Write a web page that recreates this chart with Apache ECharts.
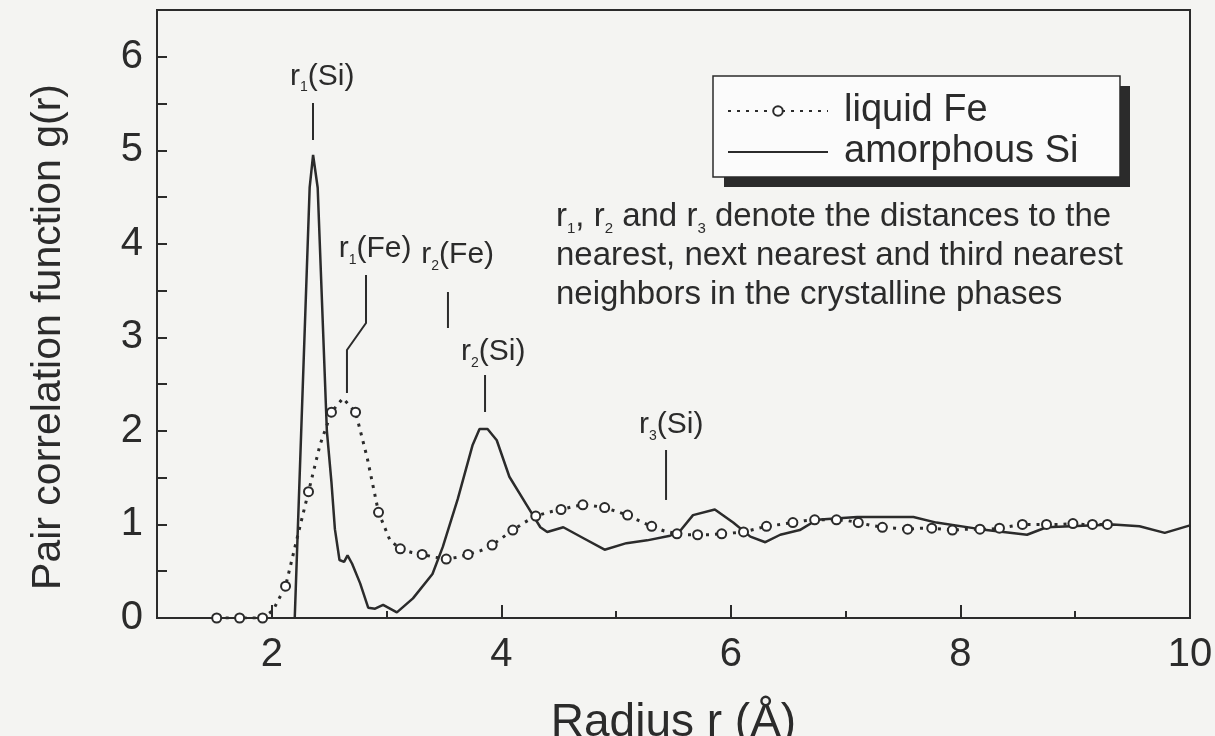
<!DOCTYPE html>
<html><head><meta charset="utf-8">
<script src="https://cdn.jsdelivr.net/npm/echarts@6/dist/echarts.min.js"></script>
<style>html,body{margin:0;padding:0;background:#f4f4f2;}#c{width:1215px;height:736px;}</style>
</head><body><div id="c"></div>
<script>
// ---- data ----
const seriesNames = ['liquid Fe', 'amorphous Si'];
const feR = [1.52,1.62,1.72,1.82,1.92,2.01,2.12,2.22,2.32,2.42,2.52,2.62,2.73,2.83,2.93,3.03,3.12,3.22,3.31,3.42,3.52,3.62,3.71,3.82,3.92,4.01,4.10,4.20,4.30,4.41,4.52,4.62,4.71,4.80,4.90,5.00,5.10,5.20,5.31,5.42,5.53,5.62,5.71,5.82,5.92,6.02,6.11,6.21,6.31,6.43,6.54,6.64,6.73,6.83,6.92,7.02,7.11,7.22,7.32,7.43,7.54,7.65,7.75,7.84,7.93,8.05,8.17,8.26,8.34,8.44,8.54,8.65,8.75,8.87,8.98,9.07,9.15,9.22,9.28];
const feG = [0,0,0,0,0,0.08,0.34,0.85,1.35,1.85,2.2,2.35,2.2,1.72,1.13,0.83,0.74,0.70,0.68,0.65,0.63,0.65,0.68,0.72,0.78,0.86,0.94,1.02,1.09,1.13,1.16,1.19,1.21,1.20,1.18,1.14,1.10,1.04,0.98,0.93,0.90,0.89,0.89,0.89,0.90,0.91,0.92,0.95,0.98,1.00,1.02,1.04,1.05,1.05,1.05,1.04,1.02,0.99,0.97,0.96,0.95,0.96,0.96,0.95,0.94,0.95,0.95,0.95,0.96,0.98,1.00,1.00,1.00,1.00,1.01,1.00,1.00,1.00,1.00];
const siR = [2.20,2.33,2.36,2.40,2.48,2.52,2.55,2.59,2.63,2.66,2.70,2.77,2.84,2.90,2.97,3.09,3.23,3.40,3.49,3.62,3.75,3.81,3.88,3.96,4.07,4.22,4.34,4.40,4.54,4.72,4.90,5.09,5.27,5.47,5.55,5.67,5.86,6.02,6.17,6.30,6.43,6.60,6.75,7.10,7.59,7.79,8.17,8.58,8.75,9.33,9.56,9.78,10.0];
const siG = [0,4.6,4.95,4.6,2.0,1.45,0.95,0.62,0.6,0.67,0.58,0.37,0.11,0.1,0.14,0.06,0.21,0.47,0.76,1.27,1.85,2.02,2.02,1.9,1.51,1.21,0.97,0.92,0.97,0.85,0.73,0.80,0.83,0.88,0.92,1.10,1.16,1.02,0.87,0.81,0.89,0.94,1.05,1.08,1.08,1.02,0.95,0.89,0.97,1.0,0.98,0.91,0.99];
const xTickLabels = [2, 4, 6, 8, 10];
const yTickLabels = [0, 1, 2, 3, 4, 5, 6];
const xTitle = 'Radius r (Å)';
const yTitle = 'Pair correlation function g(r)';
// peak markers: label (rich text), label centre and pointer path in data units
const peakMarks = [
  {label: '{m|r}{s|1}{m|(Si)}', at: [2.44, 5.79], path: [[2.359, 5.506], [2.359, 5.11]]},
  {label: '{m|r}{s|1}{m|(Fe)}', at: [2.90, 3.945], path: [[2.821, 3.667], [2.821, 3.154], [2.655, 2.865], [2.655, 2.405]]},
  {label: '{m|r}{s|2}{m|(Fe)}', at: [3.62, 3.88], path: [[3.535, 3.485], [3.535, 3.10]]},
  {label: '{m|r}{s|2}{m|(Si)}', at: [3.93, 2.844], path: [[3.858, 2.598], [3.858, 2.202]]},
  {label: '{m|r}{s|3}{m|(Si)}', at: [5.48, 2.063], path: [[5.435, 1.796], [5.435, 1.262]]}
];
const noteText = '{m|r}{s|1}{m|, r}{s|2}{m| and r}{s|3}{m| denote the distances to the}\n{m|nearest, next nearest and third nearest}\n{m|neighbors in the crystalline phases}';

// ---- chart ----
const INK = '#2b2b2b';
const FONT = '"Liberation Sans", Arial, Helvetica, sans-serif';
const chart = echarts.init(document.getElementById('c'), null, {renderer: 'canvas'});

const feData = feR.map((r, i) => ({value: [r, feG[i]], symbol: i % 2 === 0 ? 'emptyCircle' : 'none'}));
const siData = siR.map((r, i) => [r, siG[i]]);

chart.setOption({
  animation: false,
  backgroundColor: '#f4f4f2',
  textStyle: {fontFamily: FONT, color: INK},
  grid: {left: 157, right: 25, top: 10, bottom: 118, outerBoundsMode: 'none', containLabel: false,
         show: true, borderColor: INK, borderWidth: 2, backgroundColor: 'transparent'},
  legend: {
    orient: 'vertical', left: 713, top: 77, selectedMode: false,
    data: [{name: seriesNames[0]}, {name: seriesNames[1], itemStyle: {opacity: 0}}],
    itemWidth: 100, itemHeight: 12, itemGap: 3, padding: [15, 37, 9, 14],
    backgroundColor: 'transparent', borderWidth: 0,
    textStyle: {fontSize: 38, color: INK, fontFamily: FONT, padding: [0, 0, 0, 11]},
    z: 10
  },
  xAxis: [{
    type: 'value', min: 1, max: 10, interval: 1,
    name: xTitle, nameLocation: 'middle', nameGap: 82,
    nameTextStyle: {fontSize: 46, color: INK, fontFamily: FONT},
    axisLine: {show: true, lineStyle: {color: INK, width: 2}},
    axisTick: {show: true, inside: true, length: 7, lineStyle: {color: INK, width: 2}},
    axisLabel: {show: true, customValues: xTickLabels, fontSize: 40, color: INK, fontFamily: FONT, margin: 17},
    splitLine: {show: false}
  }, {
    type: 'value', min: 1, max: 10, position: 'bottom',
    axisLine: {show: false},
    axisTick: {show: true, inside: true, length: 13, customValues: xTickLabels, lineStyle: {color: INK, width: 2}},
    axisLabel: {show: false}, splitLine: {show: false}
  }],
  yAxis: {
    type: 'value', min: 0, max: 6.5, interval: 0.5,
    name: yTitle, nameLocation: 'middle', nameGap: 88, nameRotate: 90,
    nameTextStyle: {fontSize: 41, color: INK, fontFamily: FONT, padding: [0, 46, 0, 0]},
    axisLine: {show: true, lineStyle: {color: INK, width: 2}},
    axisTick: {show: true, inside: true, length: 10, lineStyle: {color: INK, width: 2}},
    axisLabel: {show: true, customValues: yTickLabels, fontSize: 40, color: INK, fontFamily: FONT, margin: 14},
    splitLine: {show: false}
  },
  series: [{
    name: seriesNames[0], type: 'line', xAxisIndex: 0, data: feData,
    symbol: 'emptyCircle', symbolSize: 9, showAllSymbol: true,
    itemStyle: {color: INK, borderWidth: 1.5},
    lineStyle: {color: INK, width: 3, type: [3, 6]},
    z: 3
  }, {
    name: seriesNames[1], type: 'line', xAxisIndex: 0, data: siData,
    symbol: 'none', itemStyle: {color: INK}, lineStyle: {color: INK, width: 2.5}, z: 2
  }]
});

const richStyles = (size, subSize) => ({
  m: {fontSize: size, fontFamily: FONT, color: INK, lineHeight: size + 6},
  s: {fontSize: subSize, fontFamily: FONT, color: INK, verticalAlign: 'bottom', lineHeight: subSize + 6}
});

const graphics = [
  // legend frame with its hard drop shadow
  {type: 'rect', silent: true, z: 1, shape: {x: 724, y: 86, width: 406, height: 101}, style: {fill: INK}},
  {type: 'rect', silent: true, z: 2, shape: {x: 713, y: 76, width: 407, height: 101}, style: {fill: '#fbfbfb', stroke: INK, lineWidth: 1.5}}
];
peakMarks.forEach(p => {
  const c = chart.convertToPixel({gridIndex: 0}, p.at);
  graphics.push({
    type: 'text', x: c[0], y: c[1], silent: true,
    style: {text: p.label, rich: richStyles(30, 14), align: 'center', verticalAlign: 'middle', fill: INK}
  });
  graphics.push({
    type: 'polyline', silent: true,
    shape: {points: p.path.map(q => chart.convertToPixel({gridIndex: 0}, q))},
    style: {stroke: INK, lineWidth: 2, fill: null}
  });
});
graphics.push({
  type: 'text', left: 556, top: 200, silent: true,
  style: {text: noteText, rich: richStyles(33, 15), fill: INK}
});
chart.setOption({graphic: graphics});
</script></body></html>
